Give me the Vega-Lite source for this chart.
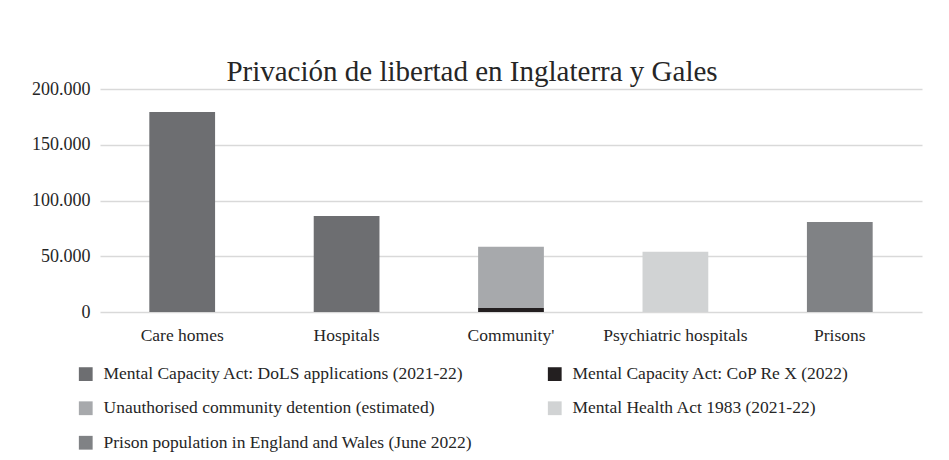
{
  "$schema": "https://vega.github.io/schema/vega-lite/v6.json",
  "width": 822,
  "height": 223,
  "autosize": {"type": "none"},
  "padding": {"left": 100, "top": 89, "right": 27, "bottom": 148},
  "background": "white",
  "title": {
    "text": "Privación de libertad en Inglaterra y Gales",
    "font": "Liberation Serif",
    "fontSize": 29,
    "fontWeight": "normal",
    "color": "#262626",
    "anchor": "middle",
    "dx": -39,
    "offset": -7
  },
  "data": {
    "values": [
      {"category": "Care homes", "series": "Mental Capacity Act: DoLS applications (2021-22)", "value": 179400},
      {"category": "Hospitals", "series": "Mental Capacity Act: DoLS applications (2021-22)", "value": 86000},
      {"category": "Community'", "series": "Mental Capacity Act: CoP Re X (2022)", "value": 3600},
      {"category": "Community'", "series": "Unauthorised community detention (estimated)", "value": 55000},
      {"category": "Psychiatric hospitals", "series": "Mental Health Act 1983 (2021-22)", "value": 54000},
      {"category": "Prisons", "series": "Prison population in England and Wales (June 2022)", "value": 80700}
    ]
  },
  "mark": {"type": "bar"},
  "encoding": {
    "x": {
      "field": "category",
      "type": "nominal",
      "sort": ["Care homes", "Hospitals", "Community'", "Psychiatric hospitals", "Prisons"],
      "scale": {"paddingInner": 0.6, "paddingOuter": 0.3},
      "axis": {
        "title": null,
        "labelAngle": 0,
        "domain": false,
        "ticks": false,
        "labelPadding": 14,
        "labelFont": "Liberation Serif",
        "labelFontSize": 17.5,
        "labelColor": "#262626"
      }
    },
    "y": {
      "field": "value",
      "type": "quantitative",
      "stack": "zero",
      "scale": {"domain": [0, 200000], "nice": false},
      "axis": {
        "title": null,
        "values": [0, 50000, 100000, 150000, 200000],
        "format": ",d",
        "domain": false,
        "ticks": false,
        "labelPadding": 10,
        "labelFont": "Liberation Serif",
        "labelFontSize": 18,
        "labelColor": "#262626",
        "gridColor": "#d9d9d9",
        "gridWidth": 1.3
      }
    },
    "order": {"field": "series", "sort": "ascending"},
    "color": {
      "field": "series",
      "type": "nominal",
      "scale": {
        "domain": [
          "Mental Capacity Act: DoLS applications (2021-22)",
          "Mental Capacity Act: CoP Re X (2022)",
          "Unauthorised community detention (estimated)",
          "Mental Health Act 1983 (2021-22)",
          "Prison population in England and Wales (June 2022)"
        ],
        "range": ["#6d6e71", "#231f20", "#a7a9ac", "#d1d3d4", "#808285"]
      },
      "legend": {
        "orient": "none",
        "direction": "horizontal",
        "legendX": -23,
        "legendY": 276,
        "columns": 2,
        "columnPadding": 74,
        "rowPadding": 15.5,
        "title": null,
        "symbolType": "square",
        "symbolSize": 190,
        "symbolStrokeWidth": 0,
        "labelFont": "Liberation Serif",
        "labelFontSize": 17.5,
        "labelColor": "#262626",
        "labelLimit": 600,
        "labelOffset": 9
      }
    }
  },
  "config": {
    "font": "Liberation Serif",
    "locale": {
      "number": {"decimal": ",", "thousands": ".", "grouping": [3], "currency": ["", " €"]}
    },
    "view": {"stroke": null}
  }
}
